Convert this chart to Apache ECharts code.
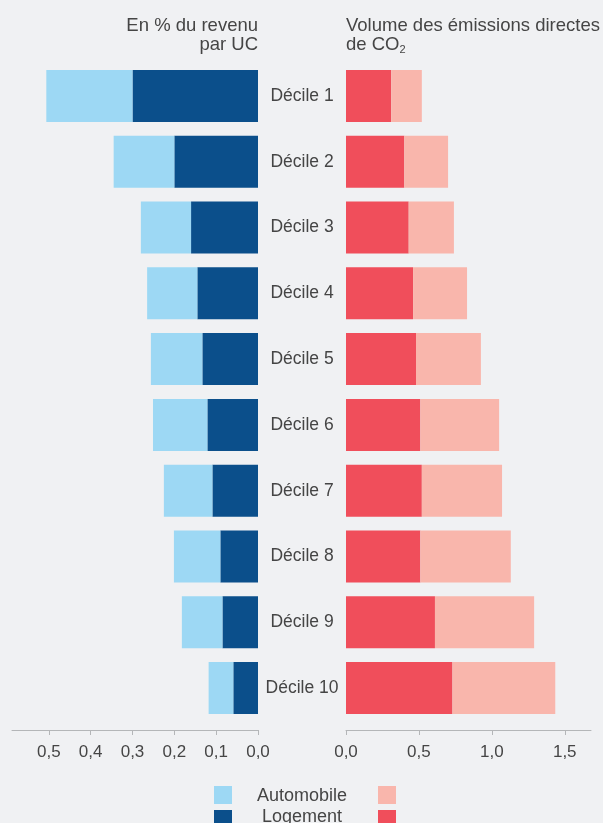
<!DOCTYPE html>
<html>
<head>
<meta charset="utf-8">
<script src="https://cdn.jsdelivr.net/npm/echarts@6/dist/echarts.min.js"></script>
<style>
html,body{margin:0;padding:0;background:#f0f1f3;}
#c{width:603px;height:823px;}
</style>
</head>
<body>
<div id="c"></div>
<script>
const categories = ['Décile 1','Décile 2','Décile 3','Décile 4','Décile 5','Décile 6','Décile 7','Décile 8','Décile 9','Décile 10'];
const revenuLogement   = [0.30, 0.20, 0.16, 0.145, 0.133, 0.121, 0.109, 0.090, 0.085, 0.059];
const revenuAutomobile = [0.206, 0.145, 0.12, 0.12, 0.123, 0.13, 0.116, 0.111, 0.097, 0.059];
const co2Logement      = [0.31, 0.40, 0.43, 0.46, 0.48, 0.51, 0.52, 0.51, 0.61, 0.73];
const co2Automobile    = [0.21, 0.30, 0.31, 0.37, 0.445, 0.54, 0.55, 0.62, 0.68, 0.705];
const leftTicks  = [0, 0.1, 0.2, 0.3, 0.4, 0.5];
const rightTicks = [0, 0.5, 1.0, 1.5];

const FONT = '"Liberation Sans", Arial, Helvetica, sans-serif';
const TXT = '#454545';
const AXIS = '#b4b6b8';
const C_AUTO_L = '#9dd8f4', C_LOG_L = '#0b4f8b', C_AUTO_R = '#f9b6ac', C_LOG_R = '#f04e5b';
const fmt = v => v.toFixed(1).replace('.', ',');

const chart = echarts.init(document.getElementById('c'), null, {renderer:'canvas'});
const xCommon = {
  type:'value', position:'bottom', offset:9, splitLine:{show:false},
  axisLine:{show:true, lineStyle:{color:AXIS, width:1}},
  axisTick:{show:true, length:5, lineStyle:{color:AXIS}},
  axisLabel:{color:TXT, fontSize:17, fontFamily:FONT, margin:14, formatter:fmt}
};
chart.setOption({
  backgroundColor:'#f0f1f3',
  animation:false,
  textStyle:{fontFamily:FONT},
  title:[
    {text:'{a|Volume des émissions directes}\n{a|de CO}{s|2}', left:346, top:16, padding:0,
     textStyle:{color:TXT, fontSize:18.5, fontWeight:'normal', fontFamily:FONT, lineHeight:19.5,
       rich:{a:{fontSize:18.5, fontFamily:FONT, color:TXT, lineHeight:19.5},
             s:{fontSize:11, fontFamily:FONT, color:TXT, lineHeight:4, verticalAlign:'bottom'}}}}
  ],
  grid:[
    {left:12, right:345, top:63, bottom:102},
    {left:346, right:12, top:63, bottom:102}
  ],
  xAxis:[
    Object.assign({}, xCommon, {gridIndex:0, inverse:true, min:0, max:0.588,
      axisTick:Object.assign({}, xCommon.axisTick, {customValues:leftTicks}),
      axisLabel:Object.assign({}, xCommon.axisLabel, {customValues:leftTicks})}),
    Object.assign({}, xCommon, {gridIndex:1, min:0, max:1.68,
      axisTick:Object.assign({}, xCommon.axisTick, {customValues:rightTicks}),
      axisLabel:Object.assign({}, xCommon.axisLabel, {customValues:rightTicks})})
  ],
  yAxis:[
    {type:'category', gridIndex:0, data:categories, inverse:true, position:'right',
     axisLine:{show:false}, axisTick:{show:false},
     axisLabel:{color:TXT, fontSize:17.5, fontFamily:FONT, align:'center', margin:44}},
    {type:'category', gridIndex:1, data:categories, inverse:true,
     axisLine:{show:false}, axisTick:{show:false}, axisLabel:{show:false}}
  ],
  series:[
    {name:'Logement', type:'bar', stack:'l', xAxisIndex:0, yAxisIndex:0, data:revenuLogement, barWidth:52, itemStyle:{color:C_LOG_L}},
    {name:'Automobile', type:'bar', stack:'l', xAxisIndex:0, yAxisIndex:0, data:revenuAutomobile, barWidth:52, itemStyle:{color:C_AUTO_L}},
    {name:'Logement CO2', type:'bar', stack:'r', xAxisIndex:1, yAxisIndex:1, data:co2Logement, barWidth:52, itemStyle:{color:C_LOG_R}},
    {name:'Automobile CO2', type:'bar', stack:'r', xAxisIndex:1, yAxisIndex:1, data:co2Automobile, barWidth:52, itemStyle:{color:C_AUTO_R}}
  ],
  graphic:[
    {type:'text', x:258, y:16, style:{text:'En % du revenu\npar UC', fill:TXT, font:'18.5px ' + FONT, align:'right', verticalAlign:'top', lineHeight:19.5}},
    {type:'rect', shape:{x:214, y:786, width:18, height:18}, style:{fill:C_AUTO_L}},
    {type:'rect', shape:{x:378, y:786, width:18, height:18}, style:{fill:C_AUTO_R}},
    {type:'rect', shape:{x:214, y:810, width:18, height:18}, style:{fill:C_LOG_L}},
    {type:'rect', shape:{x:378, y:810, width:18, height:18}, style:{fill:C_LOG_R}},
    {type:'text', x:302, y:796, style:{text:'Automobile', fill:TXT, font:'18px ' + FONT, align:'center', verticalAlign:'middle'}},
    {type:'text', x:302, y:817, style:{text:'Logement', fill:TXT, font:'18px ' + FONT, align:'center', verticalAlign:'middle'}}
  ]
});
</script>
</body>
</html>
